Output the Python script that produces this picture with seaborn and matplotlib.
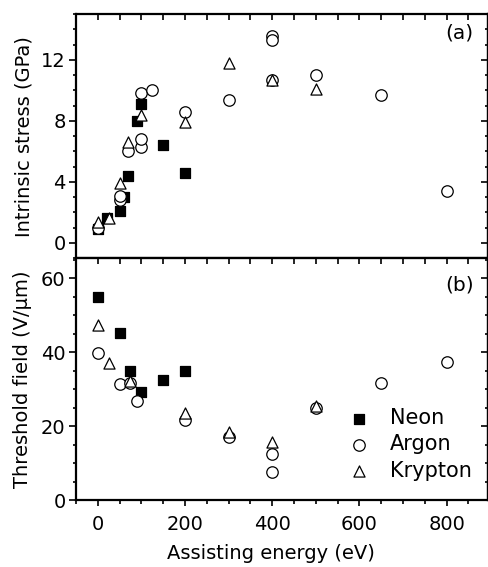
import numpy as np
import pandas as pd
import matplotlib
matplotlib.use("Agg")
import matplotlib.pyplot as plt
from matplotlib.ticker import MultipleLocator
import seaborn as sns

# panel (a) - intrinsic stress (GPa)
neon_a_x = [0, 20, 50, 60, 70, 90, 100, 150, 200]
neon_a_y = [0.9, 1.6, 2.1, 3.0, 4.4, 8.0, 9.1, 6.4, 4.6]
argon_a_x = [0, 50, 50, 70, 100, 100, 100, 125, 200, 300, 400, 400, 400, 500, 650, 800]
argon_a_y = [1.0, 2.8, 3.1, 6.0, 6.3, 6.8, 9.8, 10.0, 8.6, 9.4, 13.6, 13.3, 10.7, 11.0, 9.7, 3.4]
krypton_a_x = [0, 25, 50, 70, 100, 200, 300, 400, 500]
krypton_a_y = [1.35, 1.6, 3.9, 6.6, 8.4, 7.9, 11.8, 10.7, 10.1]

# panel (b) - threshold field (V/um)
neon_b_x = [0, 50, 75, 100, 150, 200]
neon_b_y = [55, 45.2, 34.9, 29.3, 32.6, 34.9]
argon_b_x = [0, 50, 75, 90, 200, 300, 400, 400, 500, 650, 800]
argon_b_y = [39.7, 31.3, 31.6, 26.7, 21.8, 17.0, 12.4, 7.5, 24.9, 31.6, 37.4]
krypton_b_x = [0, 25, 75, 200, 300, 400, 500]
krypton_b_y = [47.3, 37.0, 32.2, 23.6, 18.4, 15.7, 25.4]

sns.set_style("ticks")
plt.rcParams['font.family'] = ['DejaVu Sans']
plt.rcParams['text.color'] = 'black'
plt.rcParams['axes.labelcolor'] = 'black'
plt.rcParams['xtick.color'] = 'black'
plt.rcParams['ytick.color'] = 'black'
plt.rcParams['axes.edgecolor'] = 'black'

fig = plt.figure(figsize=(4.89, 5.67), dpi=100)
ax_a = fig.add_axes([0.1554, 0.545, 0.8426, 0.430])
ax_b = fig.add_axes([0.1554, 0.118, 0.8426, 0.427], sharex=ax_a)

# name, marker, face colour, marker area
series = [("Neon", "s", "black", 46), ("Argon", "o", "white", 68), ("Krypton", "^", "white", 64)]

data_a = [(neon_a_x, neon_a_y), (argon_a_x, argon_a_y), (krypton_a_x, krypton_a_y)]
data_b = [(neon_b_x, neon_b_y), (argon_b_x, argon_b_y), (krypton_b_x, krypton_b_y)]

for (name, mk, fc, sz), (x, y) in zip(series, data_a):
    sns.scatterplot(x=x, y=y, ax=ax_a, marker=mk, s=sz, color=fc,
                    edgecolor="black", linewidth=0.9, zorder=3)
for (name, mk, fc, sz), (x, y) in zip(series, data_b):
    sns.scatterplot(x=x, y=y, ax=ax_b, marker=mk, s=sz, color=fc,
                    edgecolor="black", linewidth=0.9, zorder=3, label=name)

ax_a.set_xlim(-50, 895)
ax_a.set_ylim(-1, 15)
ax_b.set_ylim(0, 65.5)

ax_a.yaxis.set_major_locator(MultipleLocator(4))
ax_a.yaxis.set_minor_locator(MultipleLocator(1))
ax_b.yaxis.set_major_locator(MultipleLocator(20))
ax_b.yaxis.set_minor_locator(MultipleLocator(5))
ax_b.xaxis.set_major_locator(MultipleLocator(200))
ax_b.xaxis.set_minor_locator(MultipleLocator(50))

for ax in (ax_a, ax_b):
    for sp in ax.spines.values():
        sp.set_linewidth(1.6)
    # left / bottom ticks point out, top / right ticks point in
    ax.tick_params(axis="y", which="both", left=True, right=False, width=1.2)
    ax.tick_params(axis="y", which="major", direction="out", length=5, pad=2.5, labelsize=14)
    ax.tick_params(axis="y", which="minor", direction="out", length=2.5)
    ax.tick_params(axis="x", which="both", top=True, bottom=True, width=1.2, direction="in")
    ax.tick_params(axis="x", which="major", length=4.5, labelsize=14)
    ax.tick_params(axis="x", which="minor", length=4)

# right side ticks inward, drawn as a secondary axis so the left ones stay outward
for ax in (ax_a, ax_b):
    tw = ax.secondary_yaxis("right")
    tw.yaxis.set_major_locator(ax.yaxis.get_major_locator())
    tw.yaxis.set_minor_locator(ax.yaxis.get_minor_locator())
    tw.tick_params(which="both", direction="in", width=1.2, labelright=False)
    tw.tick_params(which="major", length=5)
    tw.tick_params(which="minor", length=2.5)
    tw.spines["right"].set_linewidth(1.6)

ax_a.tick_params(axis="x", which="both", bottom=False, labelbottom=False)
ax_b.tick_params(axis="x", which="both", direction="out", top=False, pad=6)
ax_b.tick_params(axis="x", which="major", length=4.5)
ax_b.tick_params(axis="x", which="minor", length=3)
tw_top = ax_b.secondary_xaxis("top")
tw_top.xaxis.set_major_locator(MultipleLocator(200))
tw_top.xaxis.set_minor_locator(MultipleLocator(50))
tw_top.tick_params(which="both", direction="in", width=1.2, labeltop=False, length=4.5)

ax_a.set_ylabel("Intrinsic stress (GPa)", fontsize=14)
ax_b.set_ylabel("Threshold field (V/\u03bcm)", fontsize=14)
ax_b.set_xlabel("Assisting energy (eV)", fontsize=14)
ax_a.yaxis.set_label_coords(-0.103, 0.5)
ax_b.yaxis.set_label_coords(-0.107, 0.5)
ax_b.xaxis.set_label_coords(0.472, -0.182)

ax_a.text(0.965, 0.922, "(a)", transform=ax_a.transAxes, ha="right", va="center", fontsize=14.5)
ax_b.text(0.965, 0.888, "(b)", transform=ax_b.transAxes, ha="right", va="center", fontsize=14.5)

ax_b.legend(loc="lower right", bbox_to_anchor=(0.995, 0.02), frameon=False, fontsize=15,
            handletextpad=0.95, labelspacing=0.3, borderpad=0.2, handlelength=1.0)

fig.savefig("out.png", dpi=100)
